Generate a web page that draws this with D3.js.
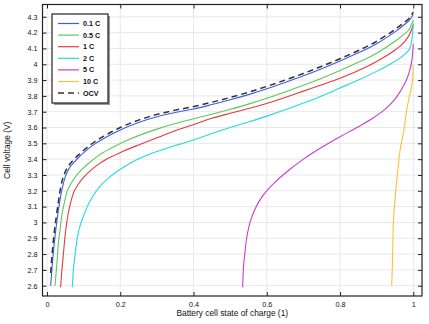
<!DOCTYPE html>
<html>
<head>
<meta charset="utf-8">
<script src="https://d3js.org/d3.v7.min.js"></script>
<style>
  body { margin: 0; background: white; }
  svg { font-family: "Liberation Sans", Arial, sans-serif; }
</style>
</head>
<body>
<svg id="chart" width="429" height="324"></svg>
<script>
// values
let soc01 = [0.010,0.015,0.020,0.026,0.032,0.040,0.050,0.060,0.072,0.090,0.110,0.130,0.155,0.180,0.200,0.250,0.300,0.350,0.400,0.450,0.500,0.550,0.600,0.650,0.700,0.750,0.800,0.850,0.900,0.950,0.975,0.990,1.000]
let v01 = [2.60,2.75,2.87,2.99,3.09,3.20,3.29,3.34,3.375,3.42,3.46,3.495,3.53,3.562,3.585,3.632,3.668,3.695,3.717,3.745,3.775,3.808,3.845,3.885,3.927,3.972,4.02,4.072,4.13,4.205,4.25,4.28,4.315]

let soc05 = [0.022,0.027,0.031,0.036,0.040,0.047,0.054,0.063,0.072,0.085,0.100,0.120,0.145,0.180,0.230,0.300,0.350,0.400,0.450,0.500,0.550,0.600,0.650,0.700,0.750,0.800,0.850,0.900,0.950,0.975,0.990,1.000]
let v05 = [2.60,2.74,2.87,2.96,3.04,3.12,3.19,3.235,3.27,3.31,3.345,3.385,3.43,3.475,3.53,3.59,3.625,3.655,3.684,3.715,3.748,3.785,3.825,3.867,3.912,3.96,4.012,4.07,4.145,4.19,4.225,4.28]

let soc1 = [0.037,0.040,0.044,0.050,0.058,0.065,0.072,0.085,0.104,0.125,0.145,0.175,0.208,0.250,0.300,0.363,0.420,0.450,0.500,0.550,0.600,0.650,0.700,0.750,0.800,0.850,0.900,0.950,0.975,0.990,1.000]
let v1 = [2.59,2.68,2.78,2.93,3.058,3.13,3.184,3.24,3.295,3.34,3.375,3.415,3.45,3.49,3.535,3.59,3.635,3.658,3.69,3.72,3.752,3.79,3.83,3.87,3.912,3.96,4.018,4.09,4.14,4.19,4.248]

let soc2 = [0.069,0.072,0.076,0.080,0.085,0.092,0.099,0.110,0.125,0.145,0.165,0.190,0.220,0.254,0.290,0.327,0.363,0.418,0.450,0.500,0.550,0.600,0.650,0.700,0.750,0.800,0.850,0.900,0.940,0.964,0.980,0.990,0.996,1.000]
let v2 = [2.59,2.70,2.783,2.86,2.931,2.99,3.036,3.10,3.165,3.23,3.275,3.32,3.365,3.405,3.44,3.469,3.495,3.535,3.562,3.60,3.635,3.672,3.712,3.755,3.80,3.85,3.90,3.955,4.005,4.04,4.07,4.10,4.153,4.259]

let soc5 = [0.534,0.536,0.540,0.545,0.552,0.560,0.570,0.585,0.600,0.625,0.660,0.700,0.750,0.800,0.850,0.890,0.920,0.945,0.965,0.980,0.990,0.997,1.000]
let v5 = [2.59,2.70,2.80,2.90,2.98,3.04,3.095,3.155,3.20,3.26,3.33,3.40,3.475,3.542,3.605,3.66,3.71,3.765,3.83,3.895,3.96,4.04,4.13]

let soc10 = [0.941,0.943,0.945,0.950,0.955,0.964,0.973,0.982,0.991,0.998,1.000]
let v10 = [2.60,2.742,2.952,3.142,3.268,3.458,3.563,3.711,3.816,3.90,3.995]

let socOcv = [0.010,0.014,0.019,0.025,0.031,0.038,0.048,0.058,0.070,0.090,0.110,0.130,0.155,0.180,0.200,0.250,0.300,0.350,0.400,0.450,0.500,0.550,0.600,0.650,0.700,0.750,0.800,0.850,0.900,0.950,0.975,0.990,1.000]
let vOcv = [2.68,2.80,2.92,3.03,3.13,3.23,3.31,3.355,3.39,3.435,3.475,3.51,3.545,3.577,3.60,3.647,3.683,3.71,3.732,3.76,3.79,3.823,3.86,3.90,3.942,3.987,4.035,4.087,4.145,4.22,4.265,4.295,4.33]

let labels = ['0.1 C', '0.5 C', '1 C', '2 C', '5 C', '10 C', 'OCV']
let colors = ['#3b5ee8', '#5cc85c', '#e23b3b', '#22dcdc', '#cc3ccc', '#fcc233', '#333333']

let xTicks = [0, 0.2, 0.4, 0.6, 0.8, 1]
let yTicks = [2.6, 2.7, 2.8, 2.9, 3, 3.1, 3.2, 3.3, 3.4, 3.5, 3.6, 3.7, 3.8, 3.9, 4, 4.1, 4.2, 4.3]

let series = [
    {name: labels[0], x: soc01, y: v01, color: colors[0], dash: null},
    {name: labels[1], x: soc05, y: v05, color: colors[1], dash: null},
    {name: labels[2], x: soc1, y: v1, color: colors[2], dash: null},
    {name: labels[3], x: soc2, y: v2, color: colors[3], dash: null},
    {name: labels[4], x: soc5, y: v5, color: colors[4], dash: null},
    {name: labels[5], x: soc10, y: v10, color: colors[5], dash: null},
    {name: labels[6], x: socOcv, y: vOcv, color: colors[6], dash: '6,4'},
]

let plotLeft = 42.5, plotRight = 422, plotTop = 4.5, plotBottom = 296

let x = d3.scaleLinear().domain([0, 1]).range([47, 413.3])
let y = d3.scaleLinear().domain([2.6, 4.3]).range([285.7, 16.8])

let svg = d3.select('#chart')

// grid
svg.append('g').selectAll('line.vgrid')
.data(xTicks)
.enter()
.append('line')
.attr('x1', d => x(d)).attr('x2', d => x(d))
.attr('y1', plotTop).attr('y2', plotBottom)
.attr('stroke', '#e8e8e8')

svg.append('g').selectAll('line.hgrid')
.data(yTicks)
.enter()
.append('line')
.attr('x1', plotLeft).attr('x2', plotRight)
.attr('y1', d => y(d)).attr('y2', d => y(d))
.attr('stroke', '#e8e8e8')

// axes with inward ticks
let axisFont = g => g.selectAll('text').attr('font-size', '7.2px').attr('fill', '#111')

svg.append('g')
.attr('transform', `translate(0,${plotBottom})`)
.call(d3.axisBottom(x).tickValues(xTicks).tickFormat(d3.format('')).tickSizeInner(-4).tickSizeOuter(0).tickPadding(6))
.call(g => g.select('.domain').remove())
.call(axisFont)

svg.append('g')
.attr('transform', `translate(0,${plotTop})`)
.call(d3.axisTop(x).tickValues(xTicks).tickFormat('').tickSizeInner(-4).tickSizeOuter(0))
.call(g => g.select('.domain').remove())

svg.append('g')
.attr('transform', `translate(${plotLeft},0)`)
.call(d3.axisLeft(y).tickValues(yTicks).tickFormat(d3.format('')).tickSizeInner(-4).tickSizeOuter(0).tickPadding(5))
.call(g => g.select('.domain').remove())
.call(axisFont)

svg.append('g')
.attr('transform', `translate(${plotRight},0)`)
.call(d3.axisRight(y).tickValues(yTicks).tickFormat('').tickSizeInner(-4).tickSizeOuter(0))
.call(g => g.select('.domain').remove())

svg.selectAll('.tick line').attr('stroke', '#222')

// curves
let line = d3.line()
.x(d => x(d[0]))
.y(d => y(d[1]))
.curve(d3.curveMonotoneX)

svg.append('g').selectAll('path.curve')
.data(series)
.enter()
.append('path')
.attr('class', 'curve')
.attr('d', d => line(d.x.map((s, i) => [s, d.y[i]])))
.attr('fill', 'none')
.attr('stroke', d => d.color)
.attr('stroke-width', d => d.dash ? 1.5 : 1.1)
.attr('stroke-dasharray', d => d.dash)

// frame
svg.append('rect')
.attr('x', plotLeft).attr('y', plotTop)
.attr('width', plotRight - plotLeft).attr('height', plotBottom - plotTop)
.attr('fill', 'none')
.attr('stroke', '#222')
.attr('stroke-width', 1.2)

// legend
let lg = svg.append('g').attr('transform', 'translate(52,14)')

lg.append('rect')
.attr('x', 2).attr('y', 2)
.attr('width', 56).attr('height', 89)
.attr('fill', '#999')

lg.append('rect')
.attr('width', 56).attr('height', 89)
.attr('fill', 'white')
.attr('stroke', '#222')
.attr('stroke-width', 1.2)

let rows = lg.selectAll('g.row')
.data(series)
.enter()
.append('g')
.attr('class', 'row')
.attr('transform', (d, i) => `translate(0,${9.5 + i * 11.6})`)

rows.append('line')
.attr('x1', 6).attr('x2', 27)
.attr('stroke', d => d.color)
.attr('stroke-width', d => d.dash ? 1.5 : 1.2)
.attr('stroke-dasharray', d => d.dash)

rows.append('text')
.attr('x', 31)
.attr('dy', '0.35em')
.attr('font-size', '7.2px')
.attr('font-weight', 600)
.attr('fill', '#111')
.text(d => d.name)

// axis titles
svg.append('text')
.attr('x', (plotLeft + plotRight) / 2)
.attr('y', 316)
.attr('text-anchor', 'middle')
.attr('font-size', '8.4px')
.attr('fill', '#111')
.text('Battery cell state of charge (1)')

svg.append('text')
.attr('transform', `translate(10,${(plotTop + plotBottom) / 2}) rotate(-90)`)
.attr('text-anchor', 'middle')
.attr('font-size', '8.4px')
.attr('fill', '#111')
.text('Cell voltage (V)')
</script>
</body>
</html>
